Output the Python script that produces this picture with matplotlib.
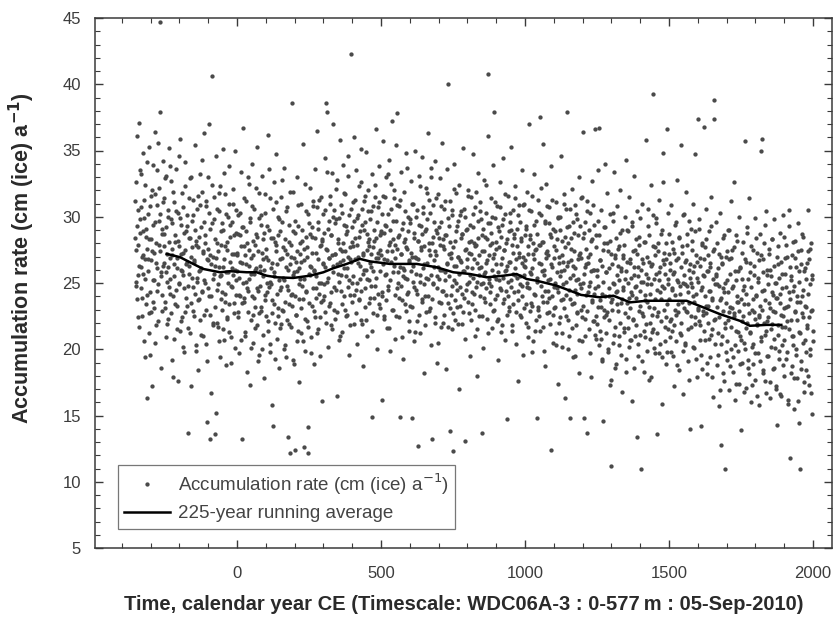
import numpy as np
import matplotlib
matplotlib.use("Agg")
import matplotlib.pyplot as plt
from matplotlib.ticker import MultipleLocator

# ---------------- data ----------------
first_year = -354
year_step = 2

# even years
acc_bce = [
    31.2, 27.5, 24.8, 36.1, 29.3, 25.6, 22.4, 37.1, 28.8, 33.5,
    26.2, 30.7, 23.9, 34.8, 27.1, 20.6, 29.9, 32.4, 25.3, 28.5,
    24.1, 16.3, 30.2, 26.8, 35.3, 22.7, 19.6, 28.3, 31.6, 17.2,
    27.4, 33.9, 25.2, 23.1, 36.4, 29.6, 21.8, 26.5, 30.9, 24.4,
    35.6, 27.9, 32.2, 44.7, 37.9, 25.8, 22.9, 29.1, 34.2, 26.3,
    28.7, 31.4, 23.6, 20.9, 33.1, 27.2, 25.1, 30.5, 22.3, 35.2,
    26.9, 24.2, 29.8, 32.7, 19.2, 27.6, 17.9, 31.1, 25.5, 28.1,
    23.4, 33.6, 26.1, 21.5, 17.6, 30.3, 24.9, 27.8, 35.9, 22.1,
    29.4, 25.9, 31.8, 20.2, 27.3, 24.6, 34.1, 22.8, 28.9, 26.4,
    30.1, 23.3, 13.7, 28.4, 25.7, 32.9, 21.2, 27.0, 17.2, 29.7,
    24.7, 31.3, 26.6, 22.5, 35.4, 28.2, 19.9, 25.4, 30.6, 18.4,
    27.7, 23.8, 33.2, 26.0, 21.1, 29.2, 31.9, 24.3, 27.4, 36.3,
    22.6, 28.6, 25.0, 30.8, 20.4, 14.5, 26.7, 33.0, 24.0, 37.0,
    13.2, 27.1, 16.7, 29.5, 40.6, 25.3, 22.0, 31.5, 13.6, 26.3,
    34.6, 15.2, 24.5, 28.0, 21.7, 30.4, 26.2, 19.4, 32.3, 25.6,
    27.9, 23.0, 35.1, 29.0, 20.7, 26.8, 24.2, 31.7, 18.8, 27.5,
    22.4, 30.0, 25.8, 33.8, 21.3, 28.5, 24.8, 19.0, 29.6, 26.1,
    31.0, 23.5, 27.2, 20.1, 35.0, 25.2, 28.8,
]

acc_0_500 = [
    27.3, 22.8, 30.1, 25.4, 19.7, 28.6, 24.0, 33.4, 13.2, 26.5,
    29.2, 36.7, 23.6, 27.8, 21.0, 31.2, 25.1, 18.3, 28.0, 24.4,
    32.5, 26.3, 17.3, 29.9, 22.2, 25.7, 34.0, 20.5, 27.1, 23.9,
    30.6, 26.0, 21.6, 28.7, 35.3, 24.6, 19.1, 27.4, 31.8, 22.7,
    25.9, 29.4, 23.2, 33.1, 20.0, 26.8, 28.3, 17.8, 24.1, 30.3,
    22.5, 27.6, 25.0, 36.2, 21.4, 29.0, 24.7, 19.8, 31.4, 26.1,
    15.8, 23.7, 14.2, 28.4, 32.6, 25.5, 22.0, 27.9, 34.7, 20.8,
    26.4, 30.0, 23.1, 18.6, 28.9, 24.5, 31.5, 21.9, 26.9, 29.6,
    22.9, 25.2, 33.7, 20.3, 27.5, 19.4, 24.8, 30.7, 13.4, 26.0,
    23.4, 28.1, 12.2, 21.7, 27.0, 38.6, 24.2, 31.9, 19.2, 25.8,
    12.4, 28.8, 22.6, 26.6, 33.0, 20.6, 29.3, 24.9, 17.5, 27.2,
    25.3, 31.0, 21.2, 28.2, 23.8, 35.5, 12.6, 26.7, 19.9, 30.4,
    24.3, 27.7, 22.1, 12.2, 14.1, 29.5, 25.6, 32.2, 20.9, 26.2,
    28.5, 23.3, 30.8, 18.9, 25.9, 33.6, 22.4, 27.3, 24.6, 36.5,
    21.5, 29.1, 25.0, 31.3, 19.5, 27.9, 23.6, 16.1, 28.3, 26.4,
    30.2, 24.0, 34.4, 22.8, 27.6, 38.6, 37.9, 25.1, 20.2, 29.7,
    26.9, 31.6, 23.5, 28.6, 21.8, 33.3, 26.3, 37.0, 24.7, 30.5,
    27.2, 22.3, 29.8, 16.5, 32.8, 25.7, 28.0, 20.7, 35.8, 26.6,
    24.4, 30.9, 27.4, 21.3, 33.9, 26.1, 29.4, 23.0, 31.7, 25.5,
    28.7, 22.6, 34.6, 27.0, 19.6, 30.1, 26.8, 24.1, 42.3, 29.2,
    25.0, 31.1, 27.8, 21.9, 36.0, 28.4, 24.5, 33.5, 20.4, 29.9,
    26.5, 32.3, 23.7, 28.9, 25.3, 35.1, 22.2, 30.6, 27.1, 18.7,
    31.2, 26.0, 29.6, 23.2, 34.9, 27.5, 21.0, 28.1, 32.0, 25.2,
    28.3, 23.9, 30.4, 26.2, 14.9, 33.2, 27.7, 22.7, 29.0, 31.5,
    24.8, 36.6, 26.9, 20.0, 30.7, 27.3, 33.8, 23.4, 28.6, 25.9,
]

acc_500_1000 = [
    28.9, 16.2, 24.3, 31.6, 35.7, 26.8, 22.5, 29.4, 33.0, 25.7,
    27.4, 21.6, 30.2, 24.8, 34.3, 28.1, 19.9, 26.6, 32.5, 37.2,
    23.0, 29.7, 26.3, 31.4, 20.8, 27.9, 35.4, 24.6, 37.8, 28.5,
    25.8, 30.8, 22.4, 14.9, 27.2, 33.4, 23.7, 29.1, 26.1, 19.3,
    31.9, 25.4, 28.3, 22.9, 34.8, 27.6, 24.2, 30.0, 21.4, 26.7,
    29.5, 23.3, 32.7, 14.8, 27.0, 25.1, 31.0, 20.6, 28.8, 35.0,
    24.5, 26.9, 30.5, 22.1, 28.2, 12.7, 33.1, 25.6, 21.2, 29.3,
    27.7, 34.5, 23.8, 30.3, 18.2, 26.4, 28.9, 24.0, 32.2, 22.8,
    29.8, 36.3, 25.3, 31.3, 27.5, 23.1, 20.3, 33.7, 13.2, 28.0,
    24.9, 30.9, 26.2, 22.0, 34.2, 27.1, 29.0, 19.0, 25.5, 31.7,
    23.6, 28.4, 26.0, 32.9, 21.7, 29.6, 35.6, 24.4, 27.8, 22.6,
    30.6, 25.2, 28.6, 18.5, 33.6, 26.5, 40.0, 23.5, 29.3, 31.2,
    13.8, 24.1, 27.3, 21.5, 30.1, 12.3, 26.3, 34.0, 22.2, 28.2,
    25.0, 31.8, 23.2, 29.7, 27.0, 17.0, 32.4, 24.7, 26.7, 30.4,
    21.9, 28.7, 25.9, 35.2, 23.9, 30.0, 13.1, 27.6, 24.5, 29.1,
    26.2, 32.0, 22.7, 28.1, 19.5, 25.6, 31.5, 27.2, 23.4, 34.7,
    29.2, 24.2, 26.8, 21.0, 30.7, 27.9, 18.0, 25.1, 33.3, 28.4,
    22.5, 26.1, 31.1, 24.9, 29.8, 13.7, 27.4, 20.1, 32.8, 25.7,
    28.5, 23.6, 30.3, 26.5, 22.3, 36.1, 40.8, 27.1, 25.0, 29.5,
    24.3, 31.4, 21.6, 28.0, 26.9, 33.9, 37.9, 23.0, 29.9, 25.3,
    27.6, 22.1, 30.8, 25.8, 19.2, 28.9, 32.6, 24.6, 26.4, 21.3,
    29.4, 25.4, 34.4, 23.8, 27.5, 30.2, 20.7, 26.0, 14.7, 28.3,
    24.0, 31.6, 26.6, 22.9, 29.6, 35.3, 25.2, 27.9, 21.8, 30.5,
    23.4, 28.7, 25.6, 32.3, 20.4, 26.8, 29.1, 24.4, 17.6, 27.3,
    30.9, 25.5, 22.6, 28.4, 33.5, 24.8, 27.0, 19.6, 26.3, 31.0,
]

acc_1000_1500 = [
    26.7, 22.0, 29.3, 24.7, 31.9, 27.2, 20.9, 37.0, 25.8, 28.6,
    23.5, 30.4, 26.1, 19.8, 28.0, 33.2, 24.2, 27.5, 21.4, 29.7,
    25.1, 14.8, 31.3, 23.2, 27.9, 22.5, 37.5, 26.4, 30.1, 24.0,
    28.1, 21.7, 35.5, 25.6, 29.5, 18.7, 26.9, 32.5, 23.6, 27.4,
    24.4, 30.7, 22.8, 28.7, 25.3, 12.4, 33.8, 26.2, 20.5, 29.1,
    23.1, 27.8, 25.0, 31.1, 21.2, 28.3, 24.6, 17.4, 30.0, 26.5,
    22.4, 29.0, 25.9, 34.6, 20.2, 27.1, 23.8, 31.7, 26.0, 16.3,
    28.5, 24.1, 30.6, 37.9, 22.2, 26.6, 29.3, 21.0, 14.8, 25.4,
    27.6, 23.4, 32.1, 19.4, 26.3, 28.8, 24.5, 30.9, 21.8, 25.2,
    29.8, 22.7, 26.8, 33.0, 18.2, 24.9, 27.3, 31.4, 23.0, 20.6,
    28.4, 36.4, 14.8, 25.7, 29.6, 22.3, 26.4, 13.7, 31.2, 24.3,
    27.0, 21.5, 30.3, 25.1, 17.9, 28.2, 23.7, 32.7, 26.0, 22.1,
    29.4, 24.6, 36.6, 27.7, 20.8, 25.5, 33.5, 23.2, 28.6, 36.7,
    21.4, 26.7, 30.5, 24.2, 19.1, 27.5, 14.6, 23.0, 29.2, 34.0,
    25.8, 22.6, 28.0, 31.8, 20.0, 26.1, 24.0, 30.2, 17.3, 27.2,
    11.2, 23.8, 29.7, 25.0, 21.1, 33.4, 26.9, 18.6, 28.4, 24.4,
    30.8, 22.9, 26.3, 20.3, 27.8, 32.0, 23.5, 25.9, 16.8, 29.0,
    24.7, 27.1, 21.6, 30.0, 25.3, 19.3, 34.3, 26.6, 22.4, 28.9,
    23.9, 31.5, 20.7, 26.8, 24.3, 29.3, 16.1, 27.4, 22.2, 33.1,
    25.6, 21.0, 28.3, 24.8, 13.4, 30.4, 26.2, 19.5, 27.9, 23.3,
    29.9, 25.1, 11.0, 22.7, 31.0, 26.5, 18.3, 28.1, 24.1, 20.9,
    35.8, 27.0, 23.6, 30.6, 25.4, 17.7, 28.6, 22.0, 32.4, 24.9,
    26.4, 21.3, 30.1, 39.3, 23.1, 27.7, 19.7, 25.7, 29.5, 13.6,
    22.5, 28.0, 25.2, 31.3, 20.4, 26.2, 23.8, 15.9, 29.0, 34.8,
    32.6, 24.6, 27.3, 21.7, 26.8, 18.9, 36.6, 23.4, 30.3, 25.3,
]

acc_1500_2000 = [
    28.7, 22.1, 26.0, 19.8, 30.9, 24.5, 21.4, 27.6, 17.2, 25.8,
    23.0, 29.4, 20.6, 26.7, 32.8, 22.8, 25.1, 18.4, 28.5, 24.2,
    21.1, 35.4, 27.3, 23.6, 16.6, 30.1, 25.6, 20.3, 26.6, 31.9,
    22.9, 27.9, 24.8, 19.1, 29.7, 23.5, 26.4, 14.0, 25.0, 21.7,
    28.2, 24.0, 31.0, 20.1, 26.3, 34.7, 22.4, 27.1, 17.9, 25.4,
    23.1, 37.4, 29.1, 21.8, 26.9, 19.6, 14.2, 24.7, 28.0, 22.6,
    36.8, 25.5, 20.7, 27.7, 23.3, 30.6, 18.1, 25.9, 22.0, 28.9,
    24.4, 19.4, 26.2, 31.5, 21.5, 23.9, 16.4, 27.4, 38.8, 37.4,
    22.3, 25.7, 29.6, 18.8, 24.9, 21.2, 27.2, 15.7, 23.7, 30.3,
    20.4, 12.8, 26.5, 22.9, 28.4, 17.6, 24.3, 11.0, 21.6, 27.0,
    19.2, 25.2, 29.0, 22.2, 16.9, 26.8, 23.2, 31.2, 20.0, 24.6,
    27.5, 18.3, 32.6, 22.7, 25.9, 16.2, 21.4, 28.6, 24.0, 19.9,
    23.6, 30.0, 17.4, 26.1, 21.0, 13.9, 25.3, 19.0, 28.1, 22.5,
    24.8, 20.5, 35.7, 17.1, 26.6, 22.0, 29.2, 18.6, 23.4, 31.4,
    21.3, 25.8, 16.0, 27.8, 20.2, 23.8, 18.9, 26.3, 22.8, 29.9,
    17.7, 24.1, 21.9, 27.3, 19.7, 25.4, 15.8, 22.4, 28.7, 35.0,
    20.6, 35.9, 23.0, 26.8, 18.2, 24.5, 21.1, 29.4, 16.7, 30.4,
    22.1, 25.6, 19.5, 27.6, 23.5, 17.5, 26.0, 21.5, 28.3, 24.3,
    18.5, 22.9, 29.8, 20.8, 25.0, 17.0, 23.9, 14.3, 27.0, 21.8,
    26.4, 19.3, 24.2, 28.8, 16.5, 22.6, 25.7, 20.3, 30.1, 23.1,
    18.0, 26.9, 21.7, 24.7, 27.9, 19.8, 23.3, 16.2, 29.3, 30.5,
    11.8, 22.2, 25.5, 18.7, 27.1, 21.0, 24.4, 15.5, 28.2, 22.8,
    20.0, 26.2, 17.8, 23.6, 29.5, 14.4, 25.1, 21.2, 11.0, 27.5,
    19.1, 24.0, 22.4, 28.5, 16.8, 25.9, 20.7, 23.2, 18.4, 26.5,
    21.6, 27.4, 30.5, 17.3, 24.9, 19.6, 22.9, 28.0, 15.1, 25.3,
    21.4,
]

# odd years
acc_bce_odd = [
    28.4, 25.1, 32.6, 23.8, 27.9, 30.5, 21.7, 26.3, 29.8, 24.6,
    33.2, 27.0, 22.5, 28.9, 25.7, 31.3, 19.4, 26.8, 29.1, 23.4,
    27.6, 34.1, 25.9, 21.2, 28.3, 30.8, 24.3, 26.7, 22.8, 32.0,
    29.4, 23.6, 27.3, 25.2, 31.7, 20.5, 28.0, 26.1, 33.5, 24.9,
    22.1, 29.7, 27.4, 30.2, 25.5, 18.6, 28.7, 24.1, 31.1, 26.5,
    27.8, 23.1, 32.9, 25.8, 29.2, 21.9, 26.2, 30.0, 24.7, 28.1,
    25.3, 33.8, 22.7, 27.1, 29.5, 24.0, 31.9, 26.4, 20.8, 28.6,
    24.5, 30.4, 26.9, 23.3, 28.2, 34.6, 25.0, 21.4, 29.9, 27.2,
    26.0, 22.4, 30.7, 25.6, 28.8, 19.8, 27.5, 32.3, 23.9, 26.6,
    29.3, 24.8, 21.6, 31.4, 26.3, 28.4, 23.5, 33.0, 25.4, 27.7,
    22.9, 30.1, 26.7, 24.2, 29.0, 20.3, 27.9, 25.1, 31.6, 23.7,
    28.5, 25.9, 22.2, 30.9, 26.1, 24.4, 34.3, 27.3, 21.0, 29.6,
    25.2, 28.0, 23.0, 31.2, 26.8, 19.1, 27.6, 24.6, 30.3, 22.6,
    29.1, 26.4, 24.0, 32.4, 21.8, 27.0, 25.7, 29.8, 23.2, 28.3,
    26.9, 22.0, 30.6, 24.9, 27.4, 20.6, 31.8, 25.5, 28.9, 23.8,
    24.3, 29.5, 26.2, 21.5, 33.3, 27.8, 23.6, 25.8, 30.2, 22.3,
    28.1, 25.0, 31.0, 23.4, 26.6, 29.4, 20.9, 27.2, 24.7, 32.1,
    25.6, 28.6, 22.7, 26.0, 30.5, 24.1, 27.1,
]

acc_0_500_odd = [
    25.9, 22.4, 28.7, 24.1, 30.3, 26.6, 20.7, 27.8, 23.5, 29.2,
    25.0, 31.4, 23.9, 27.1, 21.3, 26.4, 28.9, 24.6, 33.0, 22.8,
    27.5, 25.3, 29.6, 20.1, 26.9, 24.0, 30.8, 22.6, 28.2, 25.7,
    23.2, 27.9, 26.1, 32.2, 21.8, 28.5, 24.4, 19.6, 29.9, 26.3,
    24.8, 30.1, 22.9, 27.3, 25.5, 21.1, 28.8, 26.0, 31.7, 23.7,
    27.0, 24.3, 29.3, 22.1, 26.7, 33.6, 25.1, 20.4, 28.4, 24.9,
    26.5, 22.7, 30.6, 25.8, 23.4, 28.1, 19.3, 27.4, 31.1, 24.2,
    22.5, 28.6, 25.2, 29.8, 21.6, 26.8, 24.7, 32.8, 23.0, 27.7,
    25.4, 20.0, 28.3, 23.6, 30.4, 26.2, 22.2, 27.2, 24.5, 29.4,
    21.9, 26.4, 31.9, 24.1, 27.9, 23.3, 28.9, 25.6, 18.9, 26.9,
    24.0, 29.7, 22.6, 27.4, 25.9, 30.9, 21.4, 26.1, 23.8, 28.0,
    26.6, 23.1, 29.0, 24.8, 20.6, 27.6, 25.3, 32.5, 22.3, 28.5,
    24.4, 27.0, 21.7, 30.2, 25.7, 23.5, 28.7, 26.3, 19.7, 29.2,
    27.3, 24.6, 31.2, 22.9, 26.0, 28.4, 23.9, 25.5, 30.7, 21.2,
    26.8, 29.6, 24.2, 27.8, 22.4, 31.5, 25.0, 28.2, 23.7, 26.5,
    28.8, 24.9, 30.5, 26.2, 22.0, 27.5, 33.4, 25.4, 29.1, 23.3,
    26.9, 31.0, 24.3, 28.6, 21.5, 27.1, 25.8, 30.0, 23.0, 29.5,
    27.2, 24.5, 32.1, 26.4, 22.8, 28.3, 25.1, 29.9, 21.0, 27.6,
    25.6, 30.3, 23.4, 28.0, 26.7, 24.0, 31.8, 27.4, 22.5, 29.3,
    26.1, 28.9, 24.7, 33.1, 25.2, 27.7, 21.8, 30.6, 26.6, 23.6,
    28.1, 25.5, 29.7, 24.1, 31.3, 26.8, 22.7, 27.9, 25.0, 30.1,
    27.0, 23.8, 28.5, 26.3, 32.6, 24.4, 29.4, 21.9, 27.3, 25.7,
    29.0, 24.6, 31.6, 26.0, 22.2, 28.7, 25.3, 30.4, 23.5, 27.8,
    26.5, 29.8, 24.8, 27.2, 21.4, 30.8, 25.9, 28.2, 23.9, 32.4,
    25.4, 28.4, 22.6, 29.6, 26.9, 24.2, 31.1, 27.5, 23.1, 28.8,
]

acc_500_1000_odd = [
    27.1, 24.0, 30.2, 26.4, 22.3, 28.8, 25.6, 31.5, 23.7, 29.3,
    26.7, 33.2, 24.5, 27.9, 21.6, 29.0, 25.2, 30.6, 27.4, 23.0,
    28.3, 25.8, 32.0, 24.1, 26.9, 29.7, 22.5, 27.6, 30.9, 25.0,
    23.9, 28.6, 26.2, 31.3, 24.8, 27.2, 20.9, 29.5, 25.5, 28.1,
    26.0, 30.4, 23.4, 27.7, 25.3, 33.7, 24.3, 28.9, 22.1, 26.6,
    29.8, 25.9, 27.3, 23.2, 31.0, 26.3, 24.7, 28.4, 21.3, 27.0,
    25.7, 30.0, 24.2, 28.2, 26.8, 22.6, 29.4, 25.1, 32.3, 27.5,
    23.6, 28.7, 26.1, 30.7, 24.9, 27.8, 21.8, 29.1, 25.4, 31.8,
    26.5, 24.0, 28.0, 22.9, 30.3, 27.1, 25.6, 33.0, 23.8, 28.5,
    25.0, 29.6, 26.7, 22.4, 27.4, 31.4, 24.6, 28.8, 20.5, 26.2,
    29.2, 25.3, 27.9, 23.5, 30.8, 26.0, 24.4, 28.3, 22.0, 27.6,
    25.8, 31.2, 24.1, 28.6, 26.4, 21.7, 29.9, 25.5, 27.2, 23.1,
    28.1, 26.9, 30.5, 24.8, 22.7, 27.7, 25.2, 32.1, 23.7, 28.9,
    26.3, 24.5, 29.3, 21.9, 27.0, 25.7, 30.1, 23.3, 28.4, 26.6,
    24.2, 28.7, 22.8, 30.6, 25.9, 27.5, 20.8, 29.0, 24.9, 26.8,
    31.6, 23.6, 27.3, 25.1, 29.4, 22.2, 28.2, 26.1, 24.3, 30.2,
    25.4, 28.0, 23.0, 27.8, 31.9, 24.7, 26.5, 21.5, 29.7, 25.6,
    27.1, 24.0, 30.4, 26.2, 22.5, 28.6, 25.0, 29.1, 23.9, 27.4,
    25.8, 32.4, 24.6, 28.3, 26.7, 21.2, 29.5, 25.3, 27.9, 23.4,
    28.8, 24.8, 30.0, 26.0, 22.9, 27.2, 25.5, 31.1, 23.8, 28.1,
    26.4, 24.1, 29.2, 22.3, 27.7, 25.2, 30.7, 24.5, 28.5, 21.8,
    26.9, 29.8, 23.5, 27.5, 25.9, 31.7, 24.4, 28.0, 22.6, 26.3,
    25.1, 28.9, 23.2, 30.3, 26.6, 24.7, 29.0, 21.4, 27.3, 25.7,
    28.4, 24.3, 31.4, 26.1, 22.8, 27.8, 25.4, 30.1, 23.7, 27.0,
    24.9, 29.6, 22.4, 28.2, 26.5, 24.0, 30.9, 25.6, 23.1, 28.6,
]

acc_1000_1500_odd = [
    26.2, 23.4, 29.1, 25.0, 21.7, 27.8, 24.6, 30.5, 22.9, 28.3,
    25.7, 31.6, 23.3, 27.2, 20.6, 26.8, 29.4, 24.1, 27.6, 22.2,
    28.7, 25.4, 23.0, 30.3, 26.5, 21.4, 27.9, 24.8, 32.2, 25.9,
    23.6, 28.1, 26.0, 19.9, 29.7, 24.4, 27.3, 22.7, 30.8, 25.2,
    27.1, 23.9, 29.5, 21.9, 26.4, 28.5, 24.0, 31.3, 22.6, 26.9,
    24.7, 28.9, 23.2, 27.5, 20.3, 25.8, 29.9, 24.3, 27.0, 22.0,
    30.0, 25.5, 23.7, 28.2, 21.2, 26.6, 24.9, 31.0, 23.1, 27.7,
    25.1, 22.5, 29.2, 26.3, 20.0, 28.0, 24.5, 30.6, 23.8, 26.7,
    28.4, 21.6, 25.6, 29.6, 23.5, 27.4, 19.5, 26.1, 30.2, 24.2,
    22.8, 28.6, 25.3, 27.1, 20.7, 29.3, 24.6, 26.9, 22.4, 31.5,
    25.0, 23.3, 28.8, 26.2, 21.0, 27.6, 24.1, 30.4, 22.9, 26.5,
    29.0, 24.8, 27.2, 19.7, 25.9, 28.3, 23.6, 30.9, 22.1, 26.0,
    24.2, 21.1, 28.6, 22.5, 26.0, 21.9, 24.8, 29.7, 20.3, 23.7,
    26.7, 23.2, 20.8, 26.3, 19.3, 25.1, 28.0, 22.4, 24.0, 29.2,
    21.2, 25.8, 22.8, 27.4, 19.8, 24.6, 22.2, 28.2, 23.6, 17.7,
    26.4, 23.0, 30.3, 20.5, 24.9, 27.1, 21.7, 24.3, 18.9, 25.6,
    23.4, 27.6, 21.0, 25.2, 28.8, 22.0, 26.1, 19.6, 23.8, 26.9,
    24.5, 21.3, 27.9, 22.7, 18.3, 25.9, 23.5, 29.0, 21.6, 25.0,
    20.2, 26.5, 23.1, 25.4, 20.7, 29.6, 24.1, 22.3, 26.2, 18.6,
    24.7, 27.5, 21.8, 23.9, 27.2, 20.4, 25.5, 22.9, 28.5, 21.1,
    24.4, 26.0, 19.1, 26.8, 22.5, 25.1, 21.4, 28.1, 23.7, 21.9,
    25.7, 19.9, 24.9, 29.3, 23.2, 26.6, 20.8, 24.2, 17.9, 26.3,
    22.6, 27.8, 21.5, 25.3, 20.1, 27.1, 23.8, 29.9, 21.2, 24.5,
    27.4, 22.8, 25.8, 19.7, 24.3, 28.7, 22.1, 24.8, 19.4, 26.7,
    23.0, 26.4, 20.6, 25.7, 22.4, 28.0, 19.8, 24.9, 21.5, 27.2,
]

acc_1500_2000_odd = [
    23.8, 20.9, 26.5, 22.3, 28.1, 24.6, 19.5, 25.7, 21.8, 27.3,
    24.1, 29.6, 22.6, 25.2, 18.8, 26.9, 23.4, 28.4, 21.2, 24.8,
    26.2, 22.0, 27.8, 19.9, 25.0, 30.2, 23.1, 24.9, 20.5, 26.7,
    22.8, 28.7, 24.3, 21.5, 26.0, 17.7, 25.4, 29.1, 22.5, 24.7,
    27.5, 20.2, 25.8, 23.6, 28.9, 21.9, 24.2, 19.3, 26.6, 23.0,
    25.1, 29.8, 22.1, 26.3, 20.7, 24.5, 27.9, 18.5, 25.6, 22.9,
    26.8, 21.4, 24.0, 28.3, 22.7, 19.0, 25.9, 23.3, 27.1, 20.8,
    24.4, 26.5, 21.1, 29.3, 23.7, 17.9, 25.3, 22.2, 27.6, 24.9,
    20.4, 25.5, 23.2, 28.0, 19.6, 26.1, 22.4, 24.8, 16.9, 27.0,
    23.9, 21.0, 26.4, 18.2, 24.6, 28.6, 22.0, 25.0, 19.8, 23.5,
    27.4, 20.6, 24.3, 22.8, 29.0, 18.7, 25.7, 21.7, 26.9, 23.1,
    19.4, 24.8, 22.5, 27.7, 20.3, 25.2, 17.4, 23.6, 28.2, 21.3,
    25.9, 22.9, 18.9, 26.2, 23.8, 20.7, 27.3, 22.1, 24.5, 16.8,
    23.4, 26.8, 20.0, 24.2, 21.6, 28.8, 19.2, 25.3, 22.7, 18.1,
    26.5, 21.2, 24.7, 17.3, 23.0, 27.5, 20.4, 25.6, 22.3, 19.7,
    24.0, 28.4, 21.8, 16.5, 25.1, 22.6, 26.7, 19.1, 23.3, 27.1,
    20.9, 24.4, 18.4, 25.8, 22.0, 28.0, 17.6, 23.7, 21.4, 26.0,
    19.5, 24.9, 22.4, 27.2, 16.3, 23.1, 25.5, 20.2, 28.3, 21.9,
    24.1, 18.6, 26.3, 22.8, 20.1, 25.0, 17.2, 23.9, 27.8, 21.1,
    25.4, 19.9, 23.5, 16.6, 26.6, 21.7, 24.6, 18.8, 22.5, 28.5,
    20.7, 25.7, 23.2, 19.3, 27.0, 22.1, 15.9, 24.3, 21.5, 26.2,
    23.8, 18.2, 25.2, 21.0, 28.1, 20.3, 24.8, 17.8, 22.9, 26.9,
    19.6, 24.0, 22.2, 27.4, 16.1, 25.9, 21.3, 23.6, 18.5, 26.4,
    22.7, 28.7, 20.5, 24.5, 17.5, 23.3, 26.1, 19.8, 25.3, 21.8,
    24.2, 18.0, 26.8, 22.4, 20.0, 27.6, 16.7, 23.0, 25.6, 20.6,
]

# 225-year running average
avg_years = [-244, -198, -152, -117, -59, -24, 34, 68, 103, 138, 195, 253,
             300, 334, 381, 427, 462, 531, 624, 693, 751, 809, 867, 925,
             971, 1006, 1041, 1110, 1195, 1260, 1307, 1365, 1423, 1480,
             1561, 1619, 1677, 1747, 1781, 1839, 1890]
avg_values = [27.2, 26.95, 26.44, 26.06, 25.81, 25.89, 25.81, 25.81, 25.55,
              25.43, 25.38, 25.55, 25.81, 26.11, 26.44, 26.82, 26.63, 26.44,
              26.44, 26.19, 25.81, 25.68, 25.43, 25.55, 25.68, 25.30, 25.17,
              24.80, 24.10, 23.92, 24.04, 23.54, 23.66, 23.66, 23.66, 23.16,
              22.65, 22.14, 21.77, 21.84, 21.84]

x_ticks = [0, 500, 1000, 1500, 2000]
y_ticks = [5, 10, 15, 20, 25, 30, 35, 40, 45]

# ---------------- figure ----------------
acc_even = np.array(acc_bce + acc_0_500 + acc_500_1000 + acc_1000_1500 + acc_1500_2000)
acc_odd = np.array(acc_bce_odd + acc_0_500_odd + acc_500_1000_odd
                   + acc_1000_1500_odd + acc_1500_2000_odd)
years_even = first_year + year_step * np.arange(len(acc_even))
years_odd = first_year + 1 + year_step * np.arange(len(acc_odd))
years = np.concatenate([years_even, years_odd])
acc = np.concatenate([acc_even, acc_odd])
order = np.argsort(years)
years, acc = years[order], acc[order]

plt.rcParams['font.family'] = ['Liberation Sans', 'DejaVu Sans']

W, H = 834, 617
fig = plt.figure(figsize=(W / 100, H / 100), dpi=100)
ax = fig.add_axes([95 / W, 69 / H, 737 / W, 530 / H])

dot_color = "#4a4a4a"
ax.plot(years, acc, linestyle="none", marker="o", markersize=3.1,
        markeredgewidth=0, color=dot_color,
        label="Accumulation rate (cm (ice) a$^{-1}$)")
ax.plot(avg_years, avg_values, color="black", linewidth=1.8,
        label="225-year running average")

ax.set_xlim(-493, 2066)
ax.set_ylim(5, 45)
ax.set_xticks(x_ticks)
ax.set_yticks(y_ticks)
ax.xaxis.set_minor_locator(MultipleLocator(100))
ax.yaxis.set_minor_locator(MultipleLocator(1))

spine_col = "#3a3a3a"
for s in ax.spines.values():
    s.set_color(spine_col)
    s.set_linewidth(1.1)

ax.tick_params(which="both", direction="in", top=True, right=True,
               color=spine_col, labelcolor="#3c3c3c", labelsize=12)
ax.tick_params(which="major", length=6, width=1.0)
ax.tick_params(which="minor", length=3.5, width=0.8)
ax.tick_params(axis="y", which="major", pad=10)
ax.tick_params(axis="x", which="major", pad=13)

ax.set_xlabel("Time, calendar year CE (Timescale: WDC06A-3 : 0-577\u2009m : 05-Sep-2010)",
              fontsize=14.5, fontweight="bold", color="#2a2a2a")
ax.set_ylabel("Accumulation rate (cm (ice) a$^{\\mathbf{-1}}$)",
              fontsize=15.5, fontweight="bold", color="#2a2a2a")
ax.xaxis.set_label_coords(0.5, (548 - 604) / 530)
ax.xaxis.label.set_verticalalignment("center")
ax.yaxis.set_label_coords((22 - 95) / 737, (548 - 258) / 530)
ax.yaxis.label.set_verticalalignment("center")

leg = ax.legend(loc="lower left", bbox_to_anchor=(0.031, 0.036),
                borderaxespad=0, frameon=True, fancybox=False,
                prop={"family": ["Liberation Sans Narrow", "Liberation Sans"],
                      "size": 13.5},
                handlelength=2.45, handletextpad=0.4,
                borderpad=0.35, labelspacing=0.45, markerscale=1.0,
                labelcolor="#444444")
leg.get_frame().set_edgecolor("#555555")
leg.get_frame().set_linewidth(0.9)

fig.savefig("out.png", dpi=100)
